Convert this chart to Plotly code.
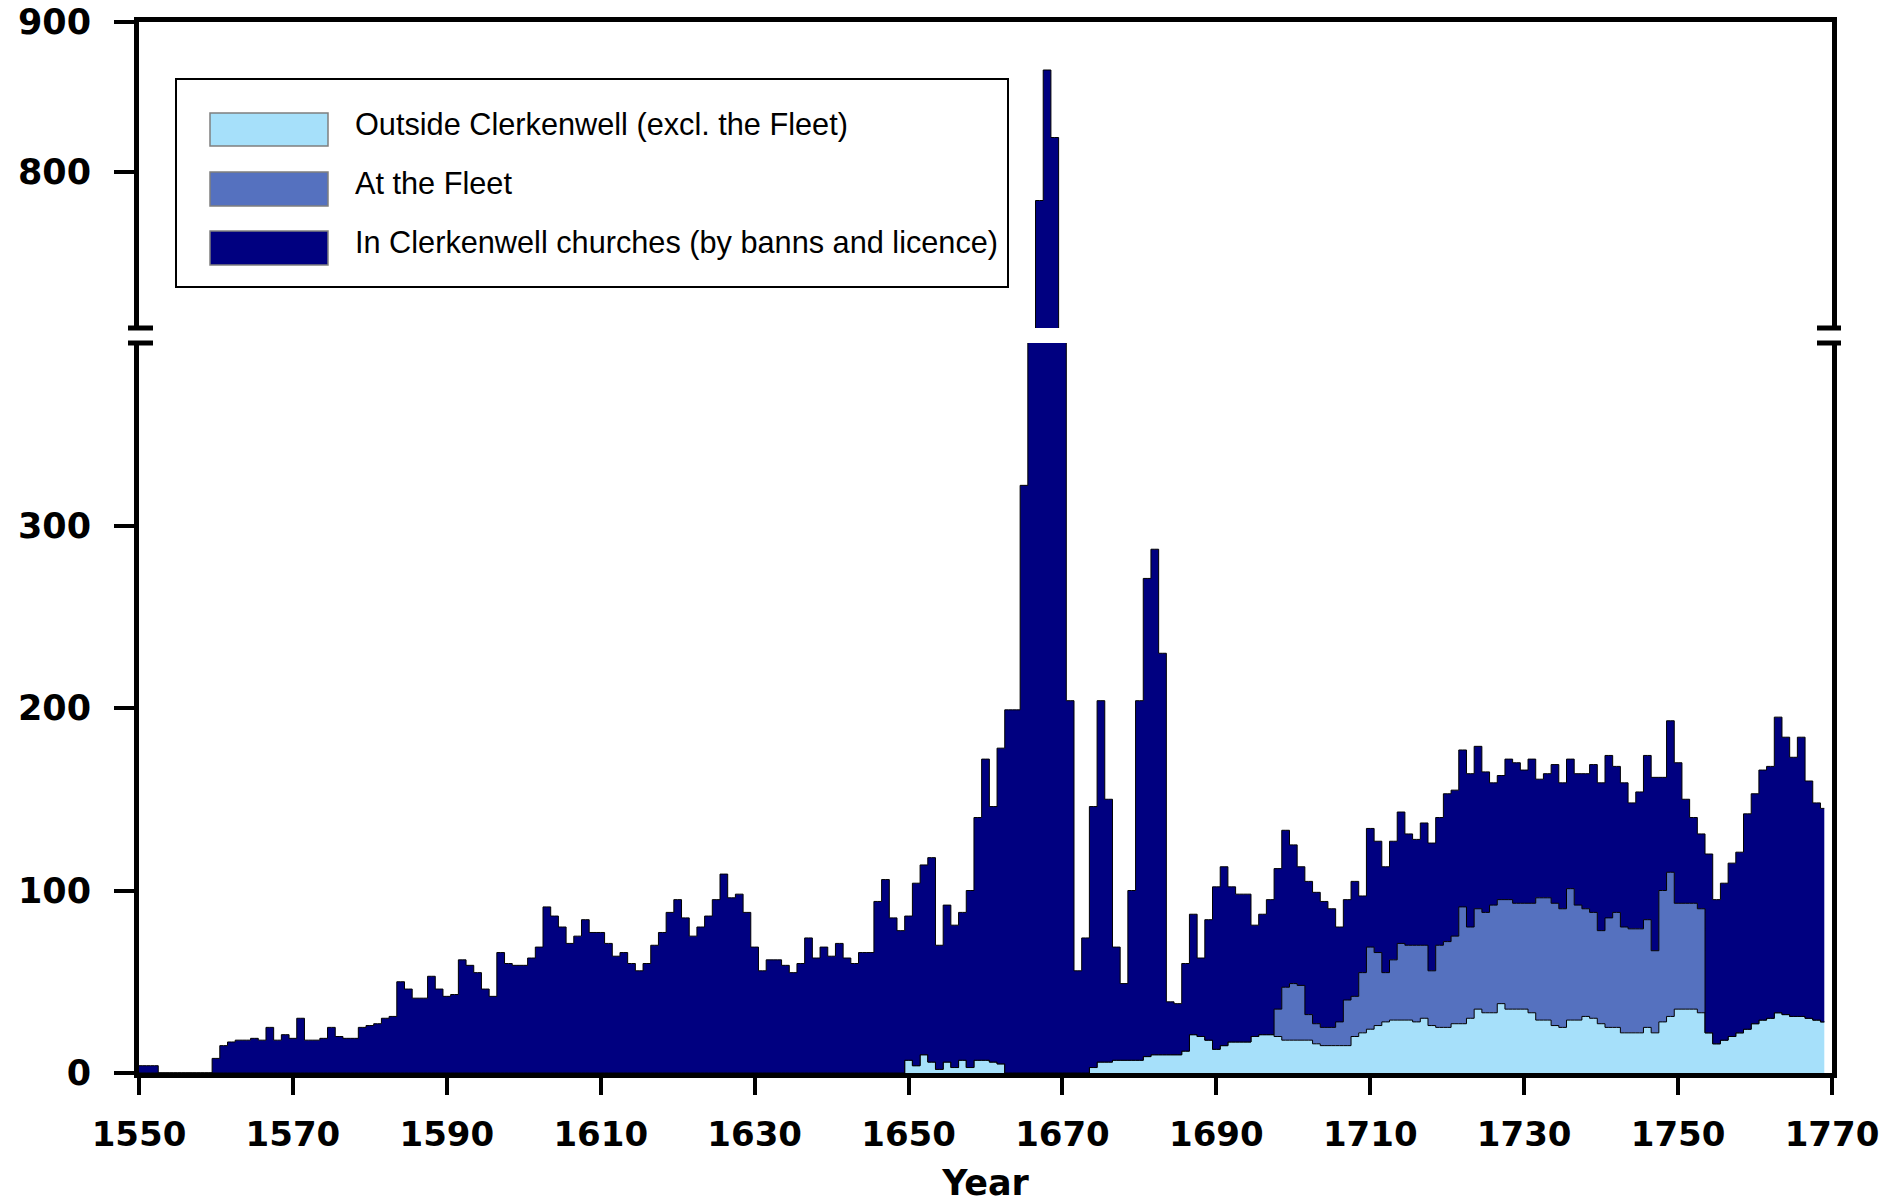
import plotly.graph_objects as go

# ---------------- data ----------------
years = list(range(1550, 1770))

outside = (
    [0] * 100 +                                   # 1550-1649
    [7, 4, 10, 6, 2, 6, 3, 7, 3, 7] +             # 1650s
    [7, 6, 5, 0, 0, 0, 0, 0, 0, 0] +              # 1660s
    [0, 0, 0, 0, 3, 6, 6, 7, 7, 7] +              # 1670s
    [7, 9, 10, 10, 10, 10, 12, 21, 20, 18] +      # 1680s
    [13, 15, 17, 17, 17, 20, 21, 21, 20, 18] +    # 1690s
    [18, 18, 18, 16, 15, 15, 15, 15, 20, 22] +    # 1700s
    [24, 26, 28, 29, 29, 29, 28, 30, 26, 25] +    # 1710s
    [25, 27, 27, 30, 35, 33, 33, 38, 35, 35] +    # 1720s
    [35, 33, 29, 29, 26, 25, 29, 29, 31, 30] +    # 1730s
    [27, 25, 25, 22, 22, 22, 25, 22, 28, 31] +    # 1740s
    [35, 35, 35, 33, 22, 16, 18, 20, 22, 24] +    # 1750s
    [27, 29, 30, 33, 32, 31, 31, 30, 29, 28]      # 1760s
)

fleet = (
    [0] * 140 +                                   # 1550-1689
    [0, 0, 0, 0, 0, 0, 0, 0, 15, 29] +            # 1690s
    [31, 30, 14, 11, 10, 10, 13, 25, 22, 33] +    # 1700s
    [45, 40, 27, 33, 42, 41, 42, 40, 30, 45] +    # 1710s
    [47, 48, 64, 50, 55, 55, 59, 57, 60, 58] +    # 1720s
    [58, 60, 67, 67, 67, 65, 72, 63, 59, 58] +    # 1730s
    [51, 60, 63, 58, 57, 57, 59, 45, 72, 79] +    # 1740s
    [58, 58, 58, 57, 0, 0, 0, 0, 0, 0] +          # 1750s
    [0] * 10                                      # 1760s
)

clerkenwell = (
    [4, 4, 4, 0, 0, 0, 0, 0, 0, 0] +
    [8, 15, 17, 18, 18, 19, 18, 25, 18, 21] +
    [19, 30, 18, 18, 19, 25, 20, 19, 19, 25] +
    [26, 27, 30, 31, 50, 46, 41, 41, 53, 46] +
    [42, 43, 62, 59, 55, 46, 42, 66, 60, 59] +
    [59, 63, 69, 91, 86, 80, 71, 75, 84, 77] +
    [77, 71, 64, 66, 60, 56, 60, 70, 77, 88] +
    [95, 85, 75, 80, 86, 95, 109, 96, 98, 88] +
    [69, 56, 62, 62, 59, 55, 60, 74, 63, 69] +
    [64, 71, 63, 60, 66, 66, 94, 106, 85, 78] +
    [79, 100, 104, 112, 68, 86, 78, 81, 97, 133] +
    [165, 140, 173, 199, 199, 322, 520, 781, 868, 823] +
    [470, 204, 56, 74, 143, 198, 144, 62, 42, 93] +
    [197, 262, 277, 220, 29, 28, 48, 66, 43, 66] +
    [89, 98, 85, 81, 81, 61, 66, 74, 77, 86] +
    [76, 65, 73, 72, 69, 65, 52, 55, 63, 42] +
    [65, 61, 58, 65, 72, 61, 58, 67, 70, 70] +
    [81, 80, 86, 84, 89, 77, 67, 68, 77, 77] +
    [73, 79, 65, 68, 76, 69, 71, 72, 74, 81] +
    [81, 89, 80, 79, 69, 75, 90, 95, 62, 83] +
    [77, 57, 47, 41, 98, 79, 86, 95, 99, 118] +
    [126, 137, 138, 162, 152, 142, 153, 130, 119, 117]
)

series_names = ["Outside Clerkenwell (excl. the Fleet)",
                "At the Fleet",
                "In Clerkenwell churches (by banns and licence)"]
series_colors = ["#A6E0FA", "#5571BF", "#000080"]
x_ticks = list(range(1550, 1771, 20))
y_ticks_lower = [0, 100, 200, 300]
y_ticks_upper = [800, 900]

assert len(outside) == len(fleet) == len(clerkenwell) == len(years)

# ---------------- figure geometry (page = figure, body margin removed) ----------------
W, H = 1881, 1203
PL, PR, PT, PB = 139, 1832, 22, 1073          # plot box in page pixels
PW, PH = PR - PL, PB - PT
L, T, R, B = PL, PT, W - PR, H - PB


def px_x(p):
    return (p - PL) / PW


def px_y(p):
    return (PB - p) / PH


lower_top = px_y(343)
upper_bot = px_y(328)

fig = go.Figure()
data = [outside, fleet, clerkenwell]
for axes, grp in ((("x", "y"), "low"), (("x2", "y2"), "up")):
    for vals, name, col in zip(data, series_names, series_colors):
        fig.add_trace(go.Scatter(
            x=years, y=vals, name=name, stackgroup=grp, mode="lines",
            line=dict(color="black", width=1, shape="hvh"),
            fillcolor=col, xaxis=axes[0], yaxis=axes[1],
            showlegend=False, hoverinfo="skip"))

tick_font = dict(family="DejaVu Sans", size=35, color="black", weight="bold")
xtick_font = dict(family="DejaVu Sans", size=34, color="black", weight="bold")

fig.update_layout(
    width=W, height=H,
    margin=dict(l=L, r=R, t=T, b=B, pad=0, autoexpand=False),
    paper_bgcolor="white", plot_bgcolor="white",
    showlegend=False,
    xaxis=dict(domain=[0, 1], range=[1550, 1770], anchor="y", automargin=False,
               tickvals=x_ticks,
               ticks="outside", ticklen=17, tickwidth=4,
               tickcolor="black", showline=True, linewidth=5, linecolor="black",
               showgrid=False, zeroline=False, tickfont=xtick_font,
               ticklabelstandoff=10, ticklabeloverflow="allow",
               title=dict(text="Year", font=tick_font, standoff=27)),
    xaxis2=dict(domain=[0, 1], range=[1550, 1770], anchor="y2", matches="x",
                automargin=False,
                side="top", showline=True, linewidth=5, linecolor="black",
                showticklabels=False, ticks="", showgrid=False, zeroline=False),
    yaxis=dict(domain=[0, lower_top], range=[0, 400], anchor="x",
               automargin=False,
               tickvals=y_ticks_lower, ticks="outside", ticklen=20, tickwidth=4,
               tickcolor="black", showline=True, linewidth=5, linecolor="black",
               mirror=True, showgrid=False, zeroline=False, tickfont=tick_font,
               ticklabelstandoff=16, ticklabeloverflow="allow"),
    yaxis2=dict(domain=[upper_bot, 1], range=[696, 900], anchor="x2",
                automargin=False,
                tickvals=y_ticks_upper, ticks="outside", ticklen=20, tickwidth=4,
                tickcolor="black", showline=True, linewidth=5, linecolor="black",
                mirror=True, showgrid=False, zeroline=False, tickfont=tick_font,
                ticklabelstandoff=16, ticklabeloverflow="allow"),
)

shapes = []
# axis-break marks on both sides
for (a, b) in ((128, 153), (1817, 1841)):
    for yy in (328, 343):
        shapes.append(dict(type="line", xref="paper", yref="paper",
                           x0=px_x(a), x1=px_x(b), y0=px_y(yy), y1=px_y(yy),
                           line=dict(color="black", width=5)))
# legend box
shapes.append(dict(type="rect", xref="paper", yref="paper",
                   x0=px_x(176), x1=px_x(1008), y0=px_y(287), y1=px_y(79),
                   line=dict(color="black", width=2), fillcolor="white",
                   layer="above"))
annotations = []
sw_rows = [(113, 146), (172, 206), (231, 265)]
for (y0, y1), name, col in zip(sw_rows, series_names, series_colors):
    shapes.append(dict(type="rect", xref="paper", yref="paper",
                       x0=px_x(210), x1=px_x(328), y0=px_y(y1), y1=px_y(y0),
                       line=dict(color="#7f7f7f", width=1.5), fillcolor=col,
                       layer="above"))
    annotations.append(dict(xref="paper", yref="paper", x=px_x(353),
                            y=px_y((y0 + y1) / 2 - 5), text=name,
                            showarrow=False, xanchor="left", yanchor="middle",
                            font=dict(family="Liberation Sans", size=30.7,
                                      color="black")))
fig.update_layout(shapes=shapes, annotations=annotations)

fig.write_html(
    "out.html",
    config={"displayModeBar": False, "staticPlot": True},
    post_script="document.body.style.margin='0';"
                "document.body.style.overflow='hidden';",
)
